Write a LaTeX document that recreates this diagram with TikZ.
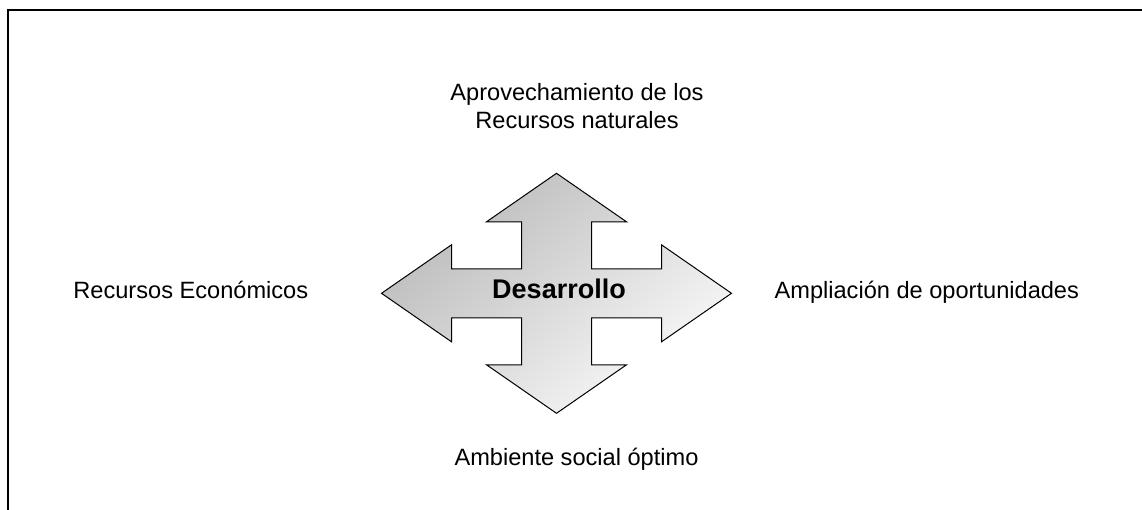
\documentclass[tikz,border=0pt]{standalone}
\usepackage{fontspec}
\setmainfont{Liberation Sans}
\usetikzlibrary{positioning}

\tikzset{
    label/.style={anchor=base, inner sep=0pt, font=\fontsize{23.6}{28.3}\selectfont, align=center},
    core/.style={anchor=base, inner sep=0pt, font=\fontsize{27}{32}\selectfont\bfseries},
    crossarrow/.style={draw=black, line width=1pt, line join=miter,
        top color=black!27, bottom color=black!2, shading angle=40}
}

\begin{document}
\begin{tikzpicture}[x=1pt, y=-1pt]
    \useasboundingbox (0,0) rectangle (1142,510);
    \draw[line width=1.8pt] (8,510) -- (8,10) -- (1142,10);

    % four-headed arrow
    \begin{scope}[shift={(556.5,293.3)}]
        \shade[crossarrow]
            (0,-120) -- (70,-71.5) -- (35,-71.5) -- (35,-24.5) -- (105,-24.5) -- (105,-48.5)
            -- (175,0) -- (105,48.5) -- (105,24.5) -- (35,24.5) -- (35,71.5) -- (70,71.5)
            -- (0,120) -- (-70,71.5) -- (-35,71.5) -- (-35,24.5) -- (-105,24.5) -- (-105,48.5)
            -- (-175,0) -- (-105,-48.5) -- (-105,-24.5) -- (-35,-24.5) -- (-35,-71.5) -- (-70,-71.5)
            -- cycle;
    \end{scope}

    \node[core] (des) at (559,298.3) {Desarrollo};

    \node[label] (nat) at (577,129) {Aprovechamiento de los\\Recursos naturales};
    \node[label] (eco) at (190.8,299) {Recursos Económicos};
    \node[label] (opo) at (926.8,299) {Ampliación de oportunidades};
    \node[label] (amb) at (576.5,465) {Ambiente social óptimo};
\end{tikzpicture}
\end{document}
